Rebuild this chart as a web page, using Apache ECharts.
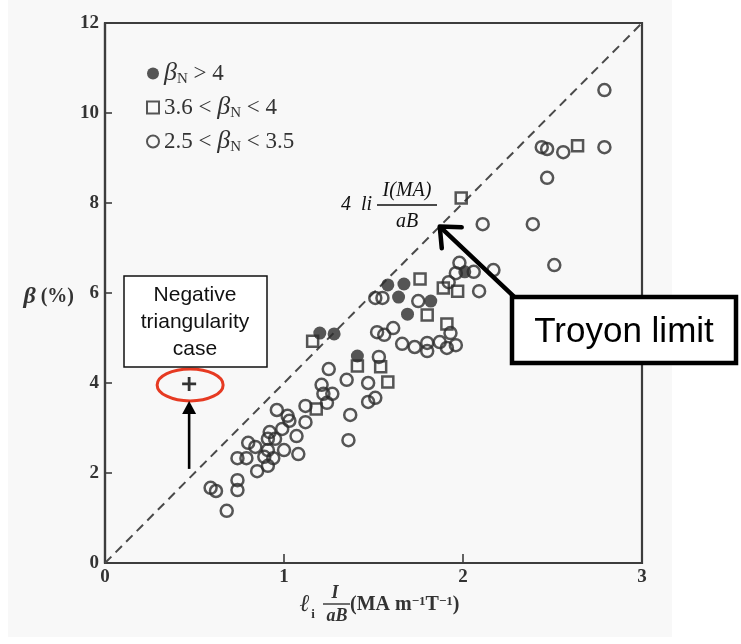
<!DOCTYPE html>
<html>
<head>
<meta charset="utf-8">
<script src="https://cdn.jsdelivr.net/npm/echarts@6/dist/echarts.min.js"></script>
<style>
  html, body { margin: 0; padding: 0; background: #fff; }
  #chart { width: 741px; height: 644px; }
</style>
</head>
<body>
<div id="chart"></div>
<script>
// β (%) versus li·I/(aB): discharges grouped by normalised beta βN

const legendNames = ['βN > 4', '3.6 < βN < 4', '2.5 < βN < 3.5'];

// βN > 4 (filled circles)
const highBetaN = [
  [1.20, 5.11], [1.28, 5.09], [1.58, 6.18], [1.67, 6.20], [1.64, 5.91],
  [1.69, 5.53], [1.41, 4.60], [1.82, 5.82], [2.01, 6.47]
];

// 3.6 < βN < 4 (open squares)
const midBetaN = [
  [1.16, 4.93], [1.41, 4.38], [1.54, 4.36], [1.58, 4.02], [1.18, 3.42],
  [1.76, 6.31], [1.89, 6.11], [1.97, 6.04], [1.80, 5.51], [1.91, 5.31],
  [1.99, 8.11], [2.64, 9.27]
];

// 2.5 < βN < 3.5 (open circles)
const lowBetaN = [
  [2.79, 10.51], [2.44, 9.24], [2.47, 9.20], [2.56, 9.13], [2.79, 9.24],
  [2.47, 8.56], [2.11, 7.53], [2.39, 7.53], [2.51, 6.62], [1.98, 6.67],
  [1.96, 6.44], [2.06, 6.47], [2.17, 6.51], [1.92, 6.24], [2.09, 6.04],
  [1.75, 5.82], [1.51, 5.89], [1.55, 5.89], [1.52, 5.13], [1.56, 5.07],
  [1.61, 5.22], [1.93, 5.11], [1.66, 4.87], [1.73, 4.80], [1.80, 4.89],
  [1.80, 4.71], [1.87, 4.91], [1.91, 4.78], [1.96, 4.84], [1.53, 4.58],
  [1.25, 4.31], [1.35, 4.07], [1.47, 4.00], [1.21, 3.96], [1.22, 3.76],
  [1.27, 3.76], [1.24, 3.56], [1.12, 3.49], [1.47, 3.58], [1.51, 3.67],
  [1.37, 3.29], [1.36, 2.73], [0.96, 3.40], [1.02, 3.27], [1.03, 3.16],
  [1.12, 3.13], [0.92, 2.91], [0.99, 2.98], [1.07, 2.82], [0.95, 2.76],
  [0.91, 2.76], [0.80, 2.67], [0.84, 2.58], [1.00, 2.51], [1.08, 2.42],
  [0.91, 2.51], [0.74, 2.33], [0.79, 2.33], [0.89, 2.36], [0.94, 2.33],
  [0.91, 2.16], [0.85, 2.04], [0.74, 1.84], [0.74, 1.62], [0.59, 1.67],
  [0.62, 1.60], [0.68, 1.16]
];

// Negative triangularity discharge
const negTriangularity = [[0.47, 3.98]];

// Troyon limit β = 4 li I/(aB)
const troyonLimit = [[0, 0], [3, 12]];
const troyonArrowTip = [1.87, 7.48];

const xTicks = { min: 0, max: 3, step: 1 };
const yTicks = { min: 0, max: 12, step: 2 };

const serif = "'Liberation Serif','Times New Roman','DejaVu Serif',serif";
const sans = "'Liberation Sans',Arial,'DejaVu Sans',sans-serif";
const ink = '#2c2c2c';
const frame = '#3d3d3d';
const plusPath = 'path://M5.6,0 H8.4 V5.6 H14 V8.4 H8.4 V14 H5.6 V8.4 H0 V5.6 H5.6 Z';

const chart = echarts.init(document.getElementById('chart'), null, { renderer: 'canvas' });

const axisCommon = {
  type: 'value',
  axisLine: { show: true, onZero: false, lineStyle: { color: frame, width: 2.2 } },
  axisTick: { show: true, inside: true, length: 7, lineStyle: { color: frame, width: 1.6 } },
  splitLine: { show: false },
  axisLabel: { color: '#333', fontFamily: serif, fontWeight: 'bold', fontSize: 19 }
};

chart.setOption({
  animation: false,
  backgroundColor: '#fff',
  grid: {
    left: 105, right: 99, top: 23, bottom: 81,
    show: true, borderColor: frame, borderWidth: 2.2, backgroundColor: 'transparent'
  },
  xAxis: Object.assign({}, axisCommon, {
    min: xTicks.min, max: xTicks.max, interval: xTicks.step,
    axisTick: { show: true, inside: true, length: 9, lineStyle: { color: frame, width: 1.6 } },
    axisLabel: Object.assign({}, axisCommon.axisLabel, { margin: 5 })
  }),
  yAxis: Object.assign({}, axisCommon, {
    min: yTicks.min, max: yTicks.max, interval: yTicks.step,
    axisLabel: Object.assign({}, axisCommon.axisLabel, { margin: 6 })
  }),
  legend: {
    orient: 'vertical',
    left: 141, top: 55,
    itemWidth: 12, itemHeight: 12, itemGap: 7, itemTextGap: 14,
    selectedMode: false,
    data: legendNames,
    formatter: function (name) {
      return name.replace('βN', '{b|β}{s|N}');
    },
    textStyle: {
      fontFamily: serif, fontSize: 23, color: '#333', lineHeight: 27,
      rich: {
        b: { fontFamily: serif, fontStyle: 'italic', fontSize: 26, color: '#333', lineHeight: 27 },
        s: { fontFamily: serif, fontSize: 15, color: '#333', lineHeight: 14, verticalAlign: 'bottom' }
      }
    }
  },
  series: [
    {
      name: 'Troyon limit', type: 'line', data: troyonLimit, symbol: 'none', silent: true, z: 1,
      lineStyle: { color: '#4a4a4a', width: 2, type: [9, 6] }
    },
    {
      name: legendNames[0], type: 'scatter', data: highBetaN, symbol: 'circle', symbolSize: 13, z: 4,
      itemStyle: { color: ink }
    },
    {
      name: legendNames[1], type: 'scatter', data: midBetaN, symbol: 'rect', symbolSize: 11, z: 3,
      itemStyle: { color: 'rgba(0,0,0,0)', borderColor: ink, borderWidth: 2.5 }
    },
    {
      name: legendNames[2], type: 'scatter', data: lowBetaN, symbol: 'circle', symbolSize: 12, z: 3,
      itemStyle: { color: 'rgba(0,0,0,0)', borderColor: ink, borderWidth: 2.5 }
    },
    {
      name: 'Negative triangularity case', type: 'scatter', data: negTriangularity,
      symbol: plusPath, symbolSize: 14, z: 5, itemStyle: { color: '#000' }
    }
  ]
});

// Annotations anchored to data positions
const px = pt => chart.convertToPixel({ gridIndex: 0 }, pt);
const plus = px(negTriangularity[0]);
const tip = px(troyonArrowTip);

// Troyon arrow geometry
const tail = [tip[0] + 74, tip[1] + 70];
const ang = Math.atan2(tail[1] - tip[1], tail[0] - tip[0]);
const headLen = 22, headSpread = 0.72;
const armA = [tip[0] + headLen * Math.cos(ang - headSpread), tip[1] + headLen * Math.sin(ang - headSpread)];
const armB = [tip[0] + headLen * Math.cos(ang + headSpread), tip[1] + headLen * Math.sin(ang + headSpread)];

const txt = (x, y, text, opt, z) => ({
  type: 'text', x: x, y: y, silent: true, z: z || 60,
  style: Object.assign({ text: text, fill: '#222', font: '19px ' + serif, align: 'center', verticalAlign: 'middle' }, opt || {})
});

chart.setOption({
  graphic: [
    // figure background
    { type: 'rect', shape: { x: 8, y: 0, width: 664, height: 637 }, style: { fill: '#f8f8f8' }, z: -10, silent: true },

    // y-axis title
    txt(74, 297, '{b|β} (%)', {
      align: 'right', fill: '#333', font: 'bold 20px ' + serif,
      rich: { b: { fontFamily: serif, fontStyle: 'italic', fontWeight: 'bold', fontSize: 24, fill: '#333' } }
    }),

    // x-axis title: ℓi · I/(aB) (MA m⁻¹T⁻¹)
    txt(305, 605, 'ℓ', { fill: '#333', font: 'italic bold 24px ' + serif }),
    txt(313, 615, 'i', { fill: '#333', font: 'bold 13px ' + serif }),
    txt(335, 593, 'I', { fill: '#333', font: 'italic bold 18px ' + serif }),
    { type: 'line', shape: { x1: 323, y1: 604, x2: 350, y2: 604 }, style: { stroke: '#333', lineWidth: 1.4 }, z: 60, silent: true },
    txt(337, 616, 'aB', { fill: '#333', font: 'italic bold 18px ' + serif }),
    txt(350, 605, '(MA m{sup|−1}T{sup|−1})', {
      align: 'left', fill: '#333', font: 'bold 20px ' + serif,
      rich: { sup: { fontFamily: serif, fontWeight: 'bold', fontSize: 13, fill: '#333', verticalAlign: 'top', lineHeight: 14 } }
    }),

    // Troyon formula label
    txt(341, 205, '4  li', { align: 'left', fill: '#111', font: 'italic 20px ' + serif }),
    txt(407, 191, 'I(MA)', { fill: '#111', font: 'italic 20px ' + serif }),
    { type: 'line', shape: { x1: 377, y1: 205, x2: 437, y2: 205 }, style: { stroke: '#111', lineWidth: 1.3 }, z: 60, silent: true },
    txt(407, 222, 'aB', { fill: '#111', font: 'italic 20px ' + serif }),

    // Troyon limit callout
    { type: 'line', shape: { x1: tail[0], y1: tail[1], x2: tip[0] + 2, y2: tip[1] + 2 }, style: { stroke: '#000', lineWidth: 4.5, lineCap: 'round' }, z: 60, silent: true },
    { type: 'polyline', shape: { points: [armA, tip, armB] }, style: { stroke: '#000', lineWidth: 4.5, lineCap: 'round', lineJoin: 'round', fill: null }, z: 60, silent: true },
    { type: 'rect', shape: { x: 512, y: 297, width: 224, height: 66 }, style: { fill: '#fff', stroke: '#000', lineWidth: 4.5 }, z: 61, silent: true },
    txt(624, 332, 'Troyon limit', { fill: '#000', font: '35px ' + sans }, 62),

    // Negative triangularity callout
    { type: 'rect', shape: { x: 124, y: 276, width: 143, height: 91 }, style: { fill: '#fff', stroke: '#111', lineWidth: 1.5 }, z: 61, silent: true },
    txt(195, 295, 'Negative', { fill: '#111', font: '21px ' + sans }, 62),
    txt(195, 322, 'triangularity', { fill: '#111', font: '21px ' + sans }, 62),
    txt(195, 349, 'case', { fill: '#111', font: '21px ' + sans }, 62),
    { type: 'ellipse', shape: { cx: plus[0] + 1, cy: plus[1] + 1, rx: 33, ry: 16 }, style: { fill: null, stroke: '#e63a22', lineWidth: 3 }, z: 60, silent: true },
    { type: 'line', shape: { x1: plus[0], y1: plus[1] + 85, x2: plus[0], y2: plus[1] + 28 }, style: { stroke: '#000', lineWidth: 2.6 }, z: 60, silent: true },
    { type: 'polygon', shape: { points: [[plus[0], plus[1] + 17], [plus[0] - 7, plus[1] + 30], [plus[0] + 7, plus[1] + 30]] }, style: { fill: '#000' }, z: 60, silent: true }
  ]
});
</script>
</body>
</html>
